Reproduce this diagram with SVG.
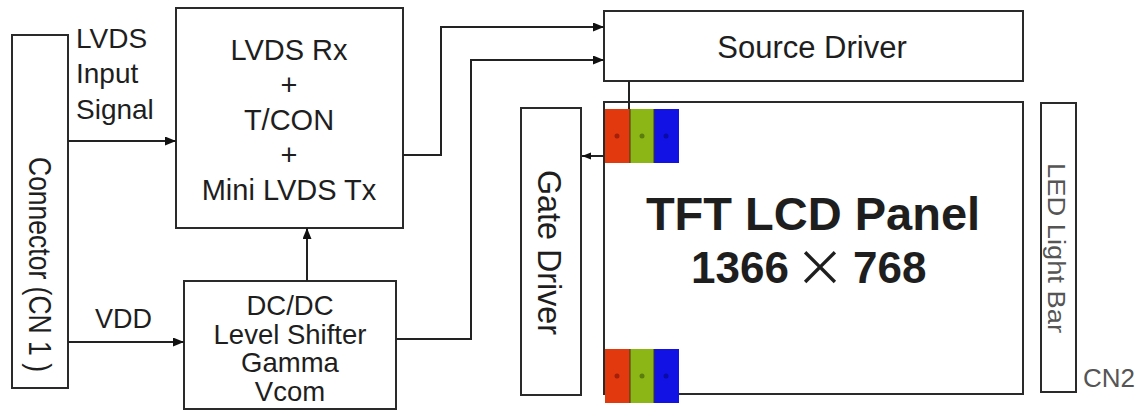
<svg xmlns="http://www.w3.org/2000/svg" width="1142" height="411" viewBox="0 0 1142 411">
<defs>
<style>
.box{fill:#fff;stroke:#2a2a2a;stroke-width:2}
.t{font-family:"Liberation Sans",Arial,sans-serif;fill:#1e1e1e}
.c{text-anchor:middle}
.w{fill:none;stroke:#222;stroke-width:2}
.g{fill:#555}
</style>
<marker id="ah" markerUnits="userSpaceOnUse" markerWidth="12" markerHeight="10" refX="11" refY="4.5" orient="auto">
<path d="M0,0 L11,4.5 L0,9 z" fill="#111"/>
</marker>
<marker id="ahs" markerUnits="userSpaceOnUse" markerWidth="10" markerHeight="8" refX="9" refY="3.5" orient="auto">
<path d="M0,0 L9,3.5 L0,7 z" fill="#111"/>
</marker>
</defs>
<rect width="1142" height="411" fill="#fff"/>

<g id="connector">
<rect class="box" x="12" y="35" width="56" height="353"/>
<text class="t c" font-size="31" textLength="215" lengthAdjust="spacingAndGlyphs" transform="translate(29,264.5) rotate(90)">Connector (CN 1 )</text>
</g>

<g id="lvds-label">
<text class="t" font-size="28" x="76" y="48">LVDS</text>
<text class="t" font-size="28" x="76" y="83">Input</text>
<text class="t" font-size="28" x="76" y="119">Signal</text>
</g>
<text class="t" font-size="27" x="95" y="328">VDD</text>

<g id="tcon">
<rect class="box" x="176" y="8" width="227" height="220"/>
<text class="t c" font-size="29" x="289" y="60">LVDS Rx</text>
<text class="t c" font-size="29" x="289" y="95">+</text>
<text class="t c" font-size="29" x="289" y="130">T/CON</text>
<text class="t c" font-size="29" x="289" y="165">+</text>
<text class="t c" font-size="29" x="289" y="200">Mini LVDS Tx</text>
</g>

<g id="dcdc">
<rect class="box" x="184" y="281" width="212" height="128"/>
<text class="t c" font-size="27.5" x="290" y="315">DC/DC</text>
<text class="t c" font-size="27.5" x="290" y="343.5">Level Shifter</text>
<text class="t c" font-size="27.5" x="290" y="372">Gamma</text>
<text class="t c" font-size="27.5" x="290" y="401">Vcom</text>
</g>

<g id="source-driver">
<rect class="box" x="604" y="11" width="419" height="70"/>
<text class="t c" font-size="31" x="812" y="58">Source Driver</text>
</g>

<g id="gate-driver">
<rect class="box" x="521" y="108" width="60" height="287"/>
<text class="t c" font-size="34" textLength="165" lengthAdjust="spacingAndGlyphs" transform="translate(538,252.5) rotate(90)">Gate Driver</text>
</g>

<g id="panel">
<rect class="box" x="604" y="102" width="419" height="292"/>
<text class="t c" font-size="47" font-weight="bold" x="813" y="230">TFT LCD Panel</text>
<text class="t" font-size="44" font-weight="bold" x="789" y="283" text-anchor="end">1366</text>
<text class="c" font-family="'Noto Sans CJK SC',sans-serif" font-size="50" fill="#1e1e1e" x="820" y="286">×</text>
<text class="t" font-size="44" font-weight="bold" x="853" y="283">768</text>
</g>

<g id="pixels-top">
<rect x="605" y="109" width="25" height="54" fill="#e2390f"/>
<rect x="630" y="109" width="24" height="54" fill="#8cb616"/>
<rect x="654" y="109" width="25" height="54" fill="#1212e4"/>
<path d="M630,109 V163 M654,109 V163" stroke="#3a3a20" stroke-width="1"/>
<circle cx="617" cy="136" r="2.5" fill="#a3200a"/>
<circle cx="642" cy="136" r="2.5" fill="#5b7c0e"/>
<circle cx="666" cy="136" r="2.5" fill="#0a0aa8"/>
</g>

<g id="pixels-bottom">
<rect x="605" y="349" width="25" height="54" fill="#e2390f"/>
<rect x="630" y="349" width="24" height="54" fill="#8cb616"/>
<rect x="654" y="349" width="25" height="54" fill="#1212e4"/>
<path d="M630,349 V403 M654,349 V403" stroke="#3a3a20" stroke-width="1"/>
<circle cx="617" cy="376" r="2.5" fill="#a3200a"/>
<circle cx="642" cy="376" r="2.5" fill="#5b7c0e"/>
<circle cx="666" cy="376" r="2.5" fill="#0a0aa8"/>
</g>

<g id="led-bar">
<rect class="box" x="1041" y="103" width="35" height="289" stroke="#444"/>
<text class="t g c" font-size="23" textLength="170" lengthAdjust="spacingAndGlyphs" transform="translate(1048,248) rotate(90)">LED Light Bar</text>
</g>
<text class="t g" font-size="26" x="1083" y="387">CN2</text>

<g id="connectors">
<path class="w" d="M68,141 H176" marker-end="url(#ah)"/>
<path class="w" d="M68,342 H184" marker-end="url(#ah)"/>
<path class="w" d="M307,281 V228" marker-end="url(#ah)"/>
<path class="w" d="M403,155 H441 V27 H604" marker-end="url(#ah)"/>
<path class="w" d="M396,339 H471 V60 H604" marker-end="url(#ah)"/>
<path class="w" d="M629,81 V109"/>
<path class="w" d="M604,156 H582" marker-end="url(#ahs)"/>
</g>
</svg>
